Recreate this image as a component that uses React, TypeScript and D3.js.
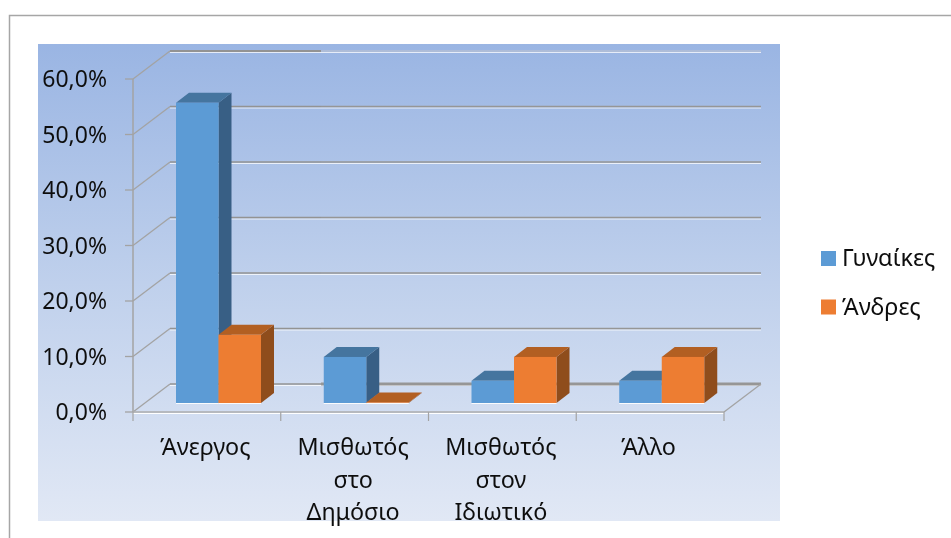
import React from "react";
import * as d3 from "d3";

const categories = ["Άνεργος", "Μισθωτός στο Δημόσιο", "Μισθωτός στον Ιδιωτικό", "Άλλο"];
const categoryLines = [["Άνεργος"], ["Μισθωτός", "στο", "Δημόσιο"], ["Μισθωτός", "στον", "Ιδιωτικό"], ["Άλλο"]];
const seriesNames = ["Γυναίκες", "Άνδρες"];
const women = [54.1, 8.3, 4.0, 4.0];
const men = [12.3, 0.1, 8.3, 8.3];
const yTicks = [0, 10, 20, 30, 40, 50, 60];

const FONT = "'Noto Sans', sans-serif";
const x0 = 133, x1 = 724, yBase = 412, yTop = 79;
const depthX = 37, depthY = 28;
const barDX = 13, barDY = 10, barLift = 9;
const breakX = 321;

const x = d3.scaleBand<string>().domain(categories).range([x0, x1]);
const y = d3.scaleLinear().domain([0, 60]).range([yBase, yTop]);
const inner = d3.scaleBand<string>().domain(seriesNames).range([43, 128]);

const palette = [
  { front: "#5B9BD5", top: "#44749F", side: "#395F85" },
  { front: "#ED7D31", top: "#B25E24", side: "#8F4D1E" },
];
const values = [women, men];

function Bar({ cat, i, s }: { cat: string; i: number; s: number }) {
  const name = seriesNames[s];
  const bx = (x(cat) as number) + (inner(name) as number);
  const w = inner.bandwidth();
  const bottom = yBase - barLift;
  const t = y(values[s][i]) - barLift;
  const c = palette[s];
  const pts = (p: number[][]) => p.map((q) => q.join(",")).join(" ");
  return (
    <g>
      <polygon fill={c.side} points={pts([[bx + w, t], [bx + w + barDX, t - barDY], [bx + w + barDX, bottom - barDY], [bx + w, bottom]])} />
      <polygon fill={c.top} points={pts([[bx, t], [bx + barDX, t - barDY], [bx + w + barDX, t - barDY], [bx + w, t]])} />
      <rect x={bx} y={t} width={w} height={bottom - t} fill={c.front} />
      <line x1={bx} x2={bx + w} y1={bottom + 0.5} y2={bottom + 0.5} stroke="#fff" strokeWidth={1} opacity={0.9} />
    </g>
  );
}

export default function App() {
  const backR = x1 + depthX;
  return (
    <svg width={951} height={538} style={{ position: "absolute", left: 0, top: 0, background: "#fff" }}>
      <defs>
        <linearGradient id="bg" x1="0" y1="0" x2="0" y2="1">
          <stop offset="0" stopColor="#9AB5E3" />
          <stop offset="0.5" stopColor="#BFD0EC" />
          <stop offset="1" stopColor="#E1E8F5" />
        </linearGradient>
        <filter id="soft" x="-2%" y="-2%" width="104%" height="104%">
          <feGaussianBlur stdDeviation="0.35" />
        </filter>
      </defs>
      <g filter="url(#soft)">
        <path d="M9.5,538 V15.5 H951" fill="none" stroke="#A6A6A6" strokeWidth={1.5} />
        <rect x={38} y={44} width={742} height={477} fill="url(#bg)" />

        {yTicks.map((t) => {
          const yy = y(t);
          const by = yy - depthY;
          return (
            <g key={t}>
              <line x1={x0} y1={yy} x2={x0 + depthX} y2={by} stroke="#A3A3A3" strokeWidth={1.3} />
              <line x1={x0 + depthX} x2={backR} y1={by + 1.5} y2={by + 1.5} stroke="#fff" strokeWidth={1} opacity={0.75} />
              <line x1={x0 + depthX} x2={breakX} y1={by} y2={by} stroke="#939393" strokeWidth={t === 60 ? 2 : 1.5} />
              <line x1={breakX} x2={backR} y1={by} y2={by} stroke={t === 60 ? "#B4BFD4" : "#969696"} strokeWidth={t === 0 ? 3 : 1.5} />
              <line x1={x0 - 8} x2={x0} y1={yy} y2={yy} stroke="#A3A3A3" strokeWidth={1.3} />
              <text x={107} y={yy} dy="0.36em" textAnchor="end" fontFamily={FONT} fontSize={23} fill="#111">
                {d3.format(".1f")(t).replace(".", ",")}%
              </text>
            </g>
          );
        })}

        <line x1={x0} x2={x0} y1={yTop} y2={yBase} stroke="#A3A3A3" strokeWidth={1.5} />
        <line x1={x0} x2={x1} y1={yBase + 1.5} y2={yBase + 1.5} stroke="#fff" strokeWidth={1} />
        <line x1={x0} x2={x1} y1={yBase} y2={yBase} stroke="#ADADAD" strokeWidth={1.3} />
        <line x1={x1} y1={yBase} x2={backR} y2={yBase - depthY} stroke="#A3A3A3" strokeWidth={1.3} />
        {[...categories.map((c) => x(c) as number), x1].map((tx) => (
          <line key={tx} x1={tx} x2={tx} y1={yBase} y2={yBase + 9} stroke="#A3A3A3" strokeWidth={1.2} />
        ))}

        {categories.map((c, i) => (
          <g key={c}>
            <Bar cat={c} i={i} s={0} />
            <Bar cat={c} i={i} s={1} />
          </g>
        ))}

        {categories.map((c, i) => (
          <text key={c} textAnchor="middle" fontFamily={FONT} fontSize={23.3} fill="#111">
            {categoryLines[i].map((l, j) => (
              <tspan key={j} x={(x(c) as number) + x.bandwidth() / 2 - 1.5} y={455 + j * 32.5}>{l}</tspan>
            ))}
          </text>
        ))}

        {seriesNames.map((s, i) => (
          <g key={s}>
            <rect x={821} y={251 + i * 48.5} width={15} height={15} fill={palette[i].front} />
            <text x={842} y={266 + i * 48.5} fontFamily={FONT} fontSize={23.5} fill="#111">{s}</text>
          </g>
        ))}
      </g>
    </svg>
  );
}
